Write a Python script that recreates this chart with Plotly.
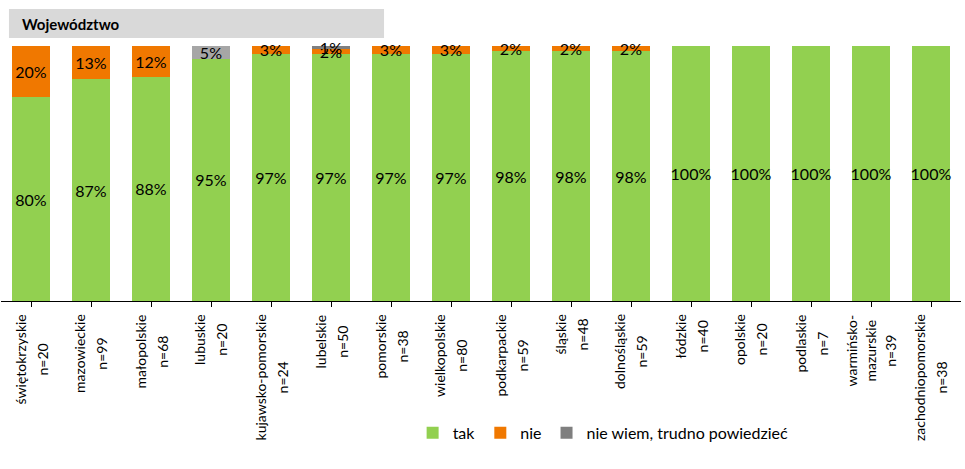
import plotly.graph_objects as go

categories = ["świętokrzyskie", "mazowieckie", "małopolskie", "lubuskie", "kujawsko-pomorskie",
              "lubelskie", "pomorskie", "wielkopolskie", "podkarpackie", "śląskie", "dolnośląskie",
              "łódzkie", "opolskie", "podlaskie", "warmińsko-<br>mazurskie", "zachodniopomorskie"]
n_values = [20, 99, 68, 20, 24, 50, 38, 80, 59, 48, 59, 40, 20, 7, 39, 38]
tak = [80, 87, 88, 95, 97, 97, 97, 97, 98, 98, 98, 100, 100, 100, 100, 100]
nie = [20, 13, 12, 0, 3, 2, 3, 3, 2, 2, 2, 0, 0, 0, 0, 0]
nie_wiem = [0, 0, 0, 5, 0, 1, 0, 0, 0, 0, 0, 0, 0, 0, 0, 0]

GREEN = "#92D050"
ORANGE = "#F07800"
GRAY = "#7F7F7F"
gray_colors = [GRAY] * len(categories)
gray_colors[3] = "#A6A6A6"

FONT = "Lato"
x_idx = list(range(len(categories)))

def labels(vals):
    return [f"{v}%" if v else "" for v in vals]

fig = go.Figure()
for name, vals, color in [("tak", tak, GREEN), ("nie", nie, ORANGE), ("nie wiem, trudno powiedzieć", nie_wiem, gray_colors)]:
    fig.add_trace(go.Bar(
        x=x_idx, y=vals, name=name, marker=dict(color=color, line=dict(width=0)),
        text=labels(vals), textposition="inside", insidetextanchor="middle", textangle=0,
        constraintext="none", textfont=dict(family=FONT, size=16, color="#000000"),
        cliponaxis=False, hoverinfo="skip",
    ))

fig.update_layout(
    barmode="stack", bargap=0.38,
    width=965, height=469,
    margin=dict(l=1, r=4, t=46, b=168, autoexpand=False),
    paper_bgcolor="white", plot_bgcolor="white",
    font=dict(family=FONT, size=15, color="#000000"),
    uniformtext=dict(mode="show", minsize=16),
    showlegend=True,
    legend=dict(orientation="h", xref="container", yref="container", x=0.625, xanchor="center",
                y=0.077, yanchor="middle",
                font=dict(family=FONT, size=16), traceorder="normal", itemwidth=30),
    xaxis=dict(range=[-0.5, len(categories) - 0.5], tickmode="array", tickvals=x_idx,
               showticklabels=False, ticks="outside", tickson="boundaries", ticklen=5,
               tickcolor="#000000", showline=True, linecolor="#000000", linewidth=1,
               showgrid=False, zeroline=False, fixedrange=True, automargin=False),
    yaxis=dict(range=[0, 100], visible=False, fixedrange=True, automargin=False),
)

# header box
fig.add_shape(type="rect", xref="paper", yref="paper", x0=0.0083, x1=0.399, y0=1.031, y1=1.145,
              fillcolor="#D9D9D9", line=dict(width=0), layer="below")
fig.add_annotation(text="<b>Województwo</b>", xref="paper", yref="paper", x=0.0198, y=1.088,
                   xanchor="left", yanchor="middle", showarrow=False,
                   font=dict(family=FONT, size=15, color="#000000"))

# category labels
for i, (cat, n) in enumerate(zip(categories, n_values)):
    parts = cat.split("<br>") + [f"n={n}"]
    outer = 17 if len(parts) == 2 else 15
    txt = "<br>".join(f"<span style='font-size:14px'>{p}</span>" for p in parts)
    fig.add_annotation(text=txt, x=i, xref="x", yref="paper", y=-0.045, yanchor="top",
                       xanchor="center", textangle=-90, showarrow=False, align="center",
                       font=dict(family=FONT, size=outer, color="#000000"))

fig.write_html("out.html", config={"displayModeBar": False},
               post_script="document.body.style.margin='0';")
